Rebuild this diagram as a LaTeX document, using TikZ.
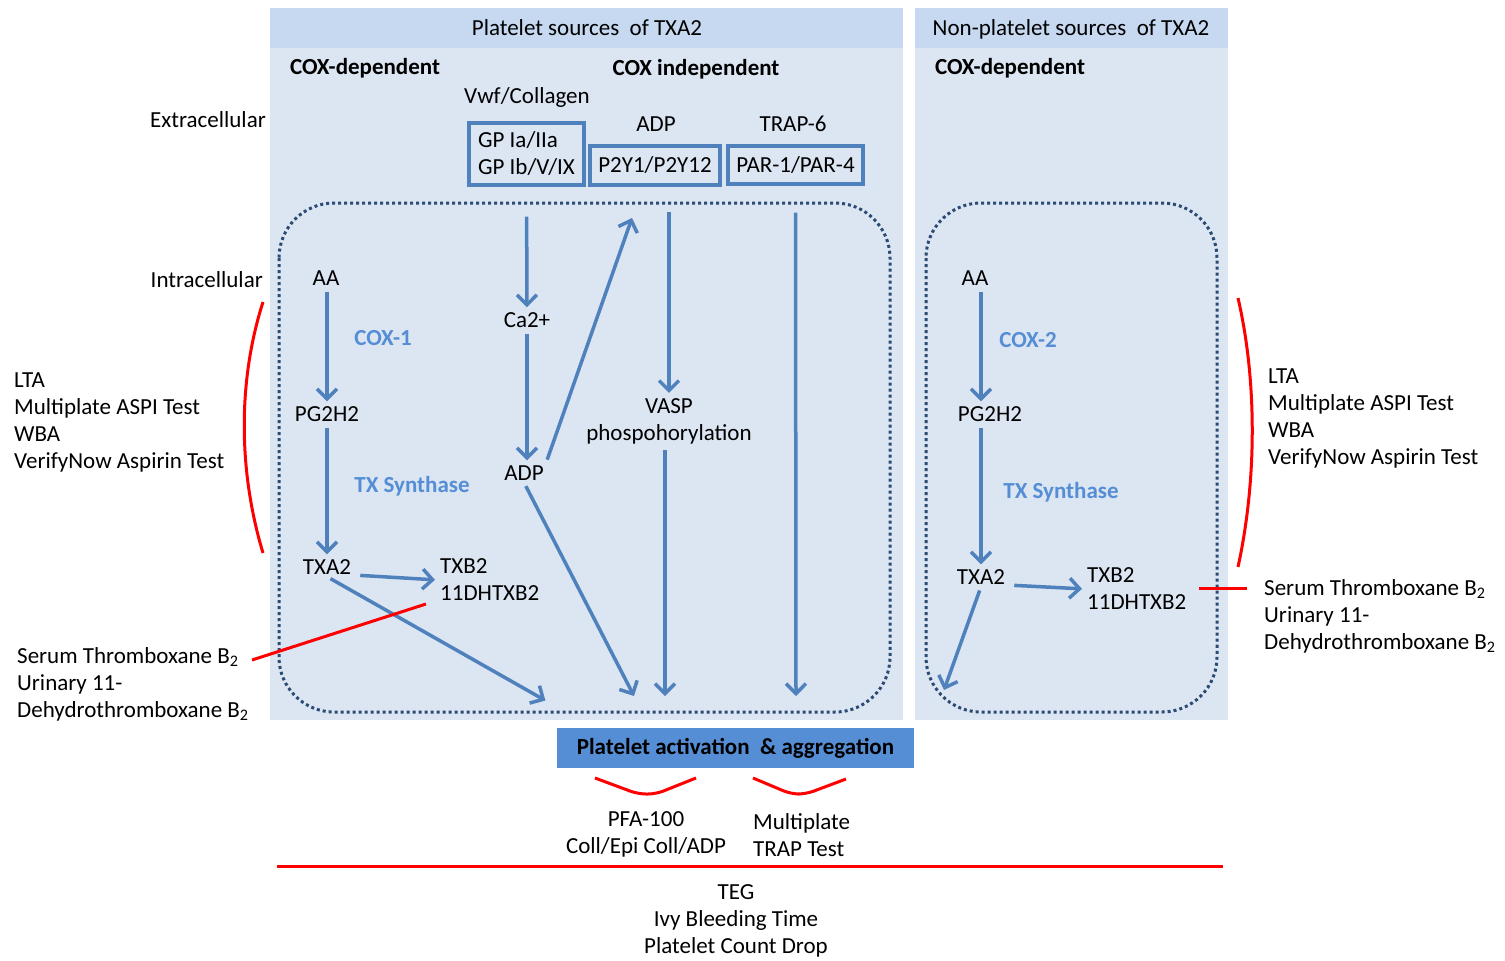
\documentclass[tikz,border=0pt]{standalone}
\usepackage{fontspec}
\setmainfont{Carlito}
\usetikzlibrary{arrows.meta,positioning}

\definecolor{HeadBlue}{HTML}{C6D9F1}
\definecolor{PanelBlue}{HTML}{DCE6F2}
\definecolor{ArrBlue}{HTML}{4F81BD}
\definecolor{EnzBlue}{HTML}{558ED5}
\definecolor{DotBlue}{HTML}{2B4A74}
\definecolor{ActBlue}{HTML}{558ED5}

\tikzset{
  lbl/.style={inner sep=2pt, font=\fontsize{23}{27}\selectfont, align=center},
  lbll/.style={lbl, align=left},
  hd/.style={lbl, font=\fontsize{23}{27}\selectfont\bfseries},
  enz/.style={lbl, text=EnzBlue, font=\fontsize{23}{27}\selectfont\bfseries},
  recept/.style={lbll, draw=ArrBlue, line width=3.2pt},
  arr/.style={draw=ArrBlue, line width=3.5pt, shorten >=3pt, shorten <=4pt,
    -{Straight Barb[length=10pt,width=20pt,line width=3.5pt]}},
  test/.style={draw=red, line width=3pt},
  cell/.style={draw=DotBlue, line width=3pt, dash pattern=on 3pt off 3pt, rounded corners=55pt},
}

\begin{document}
\begin{tikzpicture}[x=1pt, y=-1pt]
  \useasboundingbox (0,0) rectangle (1505,961);

  % panels
  \fill[PanelBlue] (270,8) rectangle (903,720);
  \fill[HeadBlue] (270,8) rectangle (903,48);
  \fill[PanelBlue] (915,8) rectangle (1228,720);
  \fill[HeadBlue] (915,8) rectangle (1228,48);
  \draw[cell] (279,203) rectangle (890,712);
  \draw[cell] (926,203) rectangle (1217,712);

  % headings
  \node[lbl] (hdrL) at (587,28) {Platelet sources~ of TXA2};
  \node[lbl] (hdrR) at (1071,29) {Non-platelet sources~ of TXA2};
  \node[hd] (depL) at (365,68) {COX-dependent};
  \node[hd] (indep) at (696,69) {COX independent};
  \node[hd] (depR) at (1010,68) {COX-dependent};
  \node[lbl, anchor=east] (extra) at (268,120) {Extracellular};
  \node[lbl, anchor=east] (intra) at (265,280) {Intracellular};

  % receptors
  \node[lbl] (vwf) at (527,97) {Vwf/Collagen};
  \node[lbl] (adpE) at (656,124) {ADP};
  \node[lbl] (trap) at (793,124) {TRAP-6};
  \node[recept, minimum width=115pt, minimum height=62pt] (GP) at (526.5,154) {GP Ia/IIa\\GP Ib/V/IX};
  \node[recept, minimum width=130pt, minimum height=39pt] (P2Y) at (655,165.5) {P2Y1/P2Y12};
  \node[recept, minimum width=135pt, minimum height=38pt] (PAR) at (795.5,165) {PAR-1/PAR-4};

  % COX-1 pathway
  \node[lbl] (AAl) at (326,278) {AA};
  \node[enz] (cox1) at (383,338) {COX-1};
  \node[lbl] (PGl) at (327,414) {PG2H2};
  \node[enz] (txsL) at (412,486) {TX Synthase};
  \node[lbl] (TXAl) at (327,567) {TXA2};
  \node[lbll, anchor=west] (TXBl) at (438,580) {TXB2\\11DHTXB2};

  % COX independent pathways
  \node[lbl] (ca) at (527,320) {Ca2+};
  \node[lbl] (adpI) at (524,473) {ADP};
  \node[lbl] (vasp) at (669,421) {VASP\\phospohorylation};

  % COX-2 pathway
  \node[lbl] (AAr) at (975,278) {AA};
  \node[enz] (cox2) at (1028,340) {COX-2};
  \node[lbl] (PGr) at (990,414) {PG2H2};
  \node[enz] (txsR) at (1061,492) {TX Synthase};
  \node[lbl] (TXAr) at (981,577) {TXA2};
  \node[lbll, anchor=west] (TXBr) at (1085,589) {TXB2\\11DHTXB2};

  \node[hd, fill=ActBlue, minimum width=357pt, minimum height=40pt] (act) at (735.5,748) {Platelet activation~ \& aggregation};

  % free ends of connectors
  \coordinate (endA) at (548,702);
  \coordinate (endB) at (634,696);
  \coordinate (endC) at (665,696);
  \coordinate (endD) at (796,696);
  \coordinate (upP) at (632,218);
  \coordinate (endE) at (944,690);

  % connectors
  \draw[arr] (AAl.south -| TXAl) -- (PGl.north -| TXAl);
  \draw[arr] (PGl.south -| TXAl) -- (TXAl.north);
  \draw[arr, shorten <=7pt] ([yshift=-8pt]TXAl.east) -- (TXBl.west);
  \draw[arr] (TXAl.south) -- (endA);
  \draw[arr, shorten <=30pt] (GP.south) -- (ca.north);
  \draw[arr] (ca.south) -- (ca.south |- adpI.north);
  \draw[arr, shorten >=0pt] (adpI.north east) -- (upP);
  \draw[arr, shorten >=0pt] (adpI.south) -- (endB);
  \draw[arr, shorten <=25pt] (P2Y.south -| vasp) -- (vasp.north);
  \draw[arr, shorten >=0pt] (vasp.south -| endC) -- (endC);
  \draw[arr, shorten <=27pt, shorten >=0pt] (PAR.south) -- (endD);
  \draw[arr] (AAr.south -| TXAr) -- (PGr.north -| TXAr);
  \draw[arr] (PGr.south -| TXAr) -- (TXAr.north);
  \draw[arr, shorten <=7pt] ([yshift=-8pt]TXAr.east) -- (TXBr.west);
  \draw[arr, shorten >=0pt] (TXAr.south) -- (endE);

  % tests
  \node[lbll, anchor=west] (testL) at (12,422.5) {LTA\\Multiplate ASPI Test\\WBA\\VerifyNow Aspirin Test};
  \node[lbll, anchor=west] (serumL) at (15,684) {Serum Thromboxane B\textsubscript{2}\\Urinary 11-\\Dehydrothromboxane B\textsubscript{2}};
  \node[lbll, anchor=west] (testR) at (1266,418.5) {LTA\\Multiplate ASPI Test\\WBA\\VerifyNow Aspirin Test};
  \node[lbll, anchor=west] (serumR) at (1262,616) {Serum Thromboxane B\textsubscript{2}\\Urinary 11-\\Dehydrothromboxane B\textsubscript{2}};
  \node[lbl] (pfa) at (646,834.5) {PFA-100\\Coll/Epi Coll/ADP};
  \node[lbll, anchor=west] (multi) at (751,835.5) {Multiplate\\TRAP Test};
  \node[lbl] (teg) at (736,920.5) {TEG\\Ivy Bleeding Time\\Platelet Count Drop};

  % red brackets
  \draw[test] (263,302) .. controls (238,380) and (238,470) .. (263,553);
  \draw[test] (1238,298) .. controls (1257,380) and (1257,480) .. (1238,567);
  \draw[test] (252,660) -- (426,604);
  \draw[test] (1199,588) -- (1247,588);
  \draw[test, rounded corners=8pt] (595,778) -- (638,794) -- (656,794) -- (696,778);
  \draw[test, rounded corners=8pt] (753,778) -- (791,794) -- (806,794) -- (846,779);
  \draw[test] (277,866) -- (1223,866);
\end{tikzpicture}
\end{document}
